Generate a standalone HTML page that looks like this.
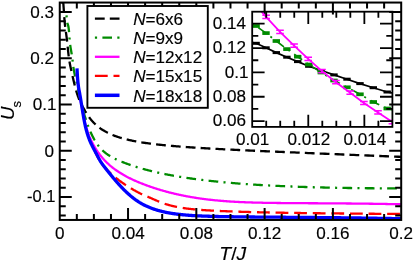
<!DOCTYPE html>
<html><head><meta charset="utf-8"><title>Us vs T/J</title>
<style>
html,body{margin:0;padding:0;background:#fff;}
body{width:415px;height:262px;overflow:hidden;font-family:"Liberation Sans",sans-serif;}
svg{display:block;will-change:transform;}
</style></head><body>
<svg width="415" height="262" viewBox="0 0 415 262">
<rect x="0" y="0" width="415" height="262" fill="#fff"/>
<defs><clipPath id="cm"><rect x="59.75" y="2.55" width="341.45" height="217.40"/></clipPath>
<clipPath id="ci"><rect x="252.20" y="11.70" width="140.20" height="115.20"/></clipPath></defs>
<g clip-path="url(#cm)" fill="none" stroke-linecap="butt" stroke-linejoin="round">
<path d="M62.30,3.49 L62.35,2.59 L62.40,1.82 L62.45,1.16 L62.50,0.62 L62.55,0.19 L62.60,-0.14 L62.66,-0.36 L62.71,-0.48 L62.76,-0.51 L62.82,-0.45 L62.87,-0.31 L62.93,-0.08 L62.98,0.22 L63.04,0.59 L63.09,1.04 L63.15,1.55 L63.21,2.12 L63.27,2.74 L63.32,3.42 L63.38,4.14 L63.44,4.91 L63.50,5.72 L63.56,6.56 L63.62,7.43 L63.69,8.33 L63.75,9.25 L63.81,10.19 L63.88,11.15 L63.94,12.11 L64.00,13.08 L64.07,14.06 L64.14,15.02 L64.20,15.99 L64.27,16.94 L64.34,17.87 L64.41,18.79 L64.48,19.68 L64.55,20.55 L64.62,21.38 L64.69,22.18 L64.76,22.94 L64.83,23.68 L64.90,24.39 L64.98,25.07 L65.05,25.73 L65.13,26.38 L65.20,27.00 L65.28,27.61 L65.36,28.20 L65.44,28.78 L65.52,29.36 L65.59,29.93 L65.68,30.49 L65.76,31.06 L65.84,31.63 L65.92,32.20 L66.00,32.77 L66.09,33.36 L66.17,33.95 L66.26,34.56 L66.34,35.19 L66.43,35.83 L66.52,36.49 L66.61,37.18 L66.70,37.89 L66.79,38.63 L66.88,39.40 L66.97,40.21 L67.07,41.04 L67.16,41.91 L67.26,42.81 L67.35,43.74 L67.45,44.68 L67.55,45.64 L67.64,46.61 L67.74,47.59 L67.84,48.58 L67.94,49.56 L68.05,50.54 L68.15,51.51 L68.25,52.47 L68.36,53.41 L68.47,54.33 L68.57,55.23 L68.68,56.10 L68.79,56.94 L68.90,57.75 L69.01,58.53 L69.12,59.30 L69.24,60.03 L69.35,60.75 L69.47,61.45 L69.58,62.13 L69.70,62.79 L69.82,63.44 L69.94,64.08 L70.06,64.70 L70.18,65.32 L70.30,65.92 L70.43,66.52 L70.55,67.11 L70.68,67.70 L70.81,68.29 L70.94,68.88 L71.07,69.47 L71.20,70.06 L71.33,70.65 L71.47,71.25 L71.60,71.86 L71.74,72.47 L71.88,73.09 L72.01,73.71 L72.15,74.34 L72.30,74.97 L72.44,75.61 L72.58,76.25 L72.73,76.89 L72.88,77.54 L73.02,78.18 L73.17,78.83 L73.32,79.49 L73.48,80.14 L73.63,80.79 L73.79,81.45 L73.94,82.10 L74.10,82.76 L74.26,83.41 L74.42,84.07 L74.58,84.72 L74.75,85.37 L74.91,86.02 L75.08,86.66 L75.25,87.30 L75.42,87.94 L75.59,88.58 L75.77,89.21 L75.94,89.84 L76.12,90.46 L76.30,91.08 L76.48,91.69 L76.66,92.30 L76.84,92.90 L77.03,93.49 L77.22,94.08 L77.41,94.65 L77.60,95.22 L77.79,95.79 L77.98,96.34 L78.18,96.89 L78.38,97.42 L78.58,97.95 L78.78,98.47 L78.98,98.98 L79.19,99.48 L79.39,99.97 L79.60,100.46 L79.81,100.94 L80.03,101.42 L80.24,101.89 L80.46,102.35 L80.68,102.81 L80.90,103.27 L81.12,103.72 L81.35,104.17 L81.57,104.62 L81.80,105.06 L82.04,105.50 L82.27,105.94 L82.51,106.38 L82.74,106.82 L82.98,107.26 L83.23,107.69 L83.47,108.13 L83.72,108.57 L83.97,109.01 L84.22,109.46 L84.48,109.90 L84.73,110.34 L84.99,110.79 L85.25,111.24 L85.52,111.68 L85.78,112.13 L86.05,112.57 L86.32,113.01 L86.60,113.45 L86.87,113.89 L87.15,114.33 L87.43,114.76 L87.72,115.19 L88.01,115.62 L88.29,116.04 L88.59,116.46 L88.88,116.88 L89.18,117.29 L89.48,117.69 L89.78,118.09 L90.09,118.49 L90.40,118.89 L90.71,119.28 L91.03,119.66 L91.34,120.04 L91.66,120.42 L91.99,120.79 L92.32,121.16 L92.64,121.53 L92.98,121.89 L93.31,122.25 L93.65,122.60 L94.00,122.96 L94.34,123.30 L94.69,123.65 L95.04,123.98 L95.40,124.32 L95.76,124.65 L96.12,124.98 L96.48,125.31 L96.85,125.63 L97.22,125.94 L97.60,126.26 L97.98,126.57 L98.36,126.88 L98.75,127.18 L99.14,127.48 L99.53,127.78 L99.93,128.07 L100.33,128.36 L100.73,128.65 L101.14,128.93 L101.56,129.21 L101.97,129.49 L102.39,129.76 L102.82,130.04 L103.24,130.30 L103.68,130.57 L104.11,130.83 L104.55,131.09 L105.00,131.34 L105.44,131.60 L105.90,131.85 L106.35,132.09 L106.81,132.34 L107.28,132.58 L107.75,132.82 L108.22,133.05 L108.70,133.29 L109.18,133.52 L109.67,133.74 L110.16,133.97 L110.66,134.19 L111.16,134.41 L111.67,134.62 L112.18,134.84 L112.69,135.05 L113.21,135.26 L113.74,135.47 L114.27,135.67 L114.80,135.87 L115.34,136.07 L115.89,136.27 L116.44,136.46 L116.99,136.65 L117.55,136.84 L118.12,137.03 L118.69,137.22 L119.27,137.40 L119.85,137.58 L120.44,137.76 L121.03,137.93 L121.63,138.11 L122.23,138.28 L122.84,138.45 L123.45,138.62 L124.07,138.79 L124.70,138.95 L125.33,139.11 L125.97,139.27 L126.62,139.43 L127.27,139.59 L127.92,139.74 L128.59,139.90 L129.25,140.05 L129.93,140.20 L130.61,140.35 L131.30,140.49 L131.99,140.64 L132.69,140.78 L133.40,140.92 L134.11,141.06 L134.83,141.20 L135.56,141.34 L136.29,141.47 L137.03,141.61 L137.78,141.74 L138.54,141.87 L139.30,142.00 L140.07,142.13 L140.84,142.26 L141.63,142.38 L142.42,142.51 L143.21,142.63 L144.02,142.75 L144.83,142.87 L145.65,142.99 L146.48,143.11 L147.32,143.23 L148.16,143.34 L149.01,143.46 L149.87,143.57 L150.74,143.69 L151.61,143.80 L152.50,143.91 L153.39,144.02 L154.29,144.13 L155.20,144.23 L156.12,144.34 L157.04,144.45 L157.98,144.55 L158.92,144.65 L159.87,144.76 L160.83,144.86 L161.80,144.96 L162.78,145.06 L163.77,145.16 L164.77,145.26 L165.77,145.36 L166.79,145.45 L167.81,145.55 L168.85,145.65 L169.89,145.74 L170.95,145.83 L172.01,145.93 L173.09,146.02 L174.17,146.11 L175.27,146.20 L176.37,146.29 L177.48,146.38 L178.61,146.47 L179.75,146.56 L180.89,146.65 L182.05,146.74 L183.22,146.83 L184.40,146.91 L185.59,147.00 L186.79,147.08 L188.00,147.17 L189.22,147.26 L190.46,147.34 L191.71,147.42 L192.96,147.51 L194.23,147.59 L195.52,147.67 L196.81,147.76 L198.11,147.84 L199.43,147.92 L200.76,148.00 L202.11,148.08 L203.46,148.16 L204.83,148.25 L206.21,148.33 L207.60,148.41 L209.01,148.49 L210.43,148.57 L211.86,148.65 L213.31,148.73 L214.77,148.81 L216.24,148.89 L217.73,148.97 L219.23,149.05 L220.75,149.12 L222.28,149.20 L223.82,149.28 L225.38,149.36 L226.95,149.44 L228.54,149.52 L230.14,149.60 L231.76,149.68 L233.39,149.76 L235.04,149.84 L236.70,149.92 L238.38,150.00 L240.07,150.08 L241.78,150.16 L243.51,150.24 L245.25,150.32 L247.01,150.41 L248.79,150.49 L250.58,150.57 L252.39,150.65 L254.21,150.73 L256.05,150.82 L257.91,150.90 L259.79,150.98 L261.68,151.07 L263.59,151.15 L265.52,151.23 L267.47,151.32 L269.44,151.40 L271.42,151.49 L273.42,151.58 L275.45,151.66 L277.49,151.75 L279.55,151.84 L281.62,151.93 L283.72,152.02 L285.84,152.11 L287.98,152.20 L290.13,152.29 L292.31,152.38 L294.51,152.47 L296.73,152.56 L298.97,152.66 L301.23,152.75 L303.51,152.85 L305.81,152.94 L308.14,153.04 L310.48,153.13 L312.85,153.23 L315.24,153.33 L317.65,153.43 L320.09,153.53 L322.54,153.63 L325.02,153.74 L327.53,153.84 L330.05,153.94 L332.60,154.05 L335.18,154.15 L337.78,154.26 L340.40,154.37 L343.05,154.48 L345.72,154.59 L348.41,154.70 L351.14,154.81 L353.88,154.92 L356.66,155.04 L359.46,155.15 L362.28,155.27 L365.13,155.39 L368.01,155.50 L370.92,155.62 L373.85,155.75 L376.81,155.87 L379.79,155.99 L382.81,156.12 L385.85,156.24 L388.92,156.37 L392.02,156.50 L395.15,156.63 L398.31,156.76 L401.50,156.89" stroke="#000" stroke-width="2.3" stroke-dasharray="9.8 5.1" stroke-dashoffset="8.04"/>
<path d="M66.50,15.13 L66.58,16.37 L66.65,17.49 L66.73,18.48 L66.81,19.36 L66.89,20.14 L66.97,20.82 L67.05,21.42 L67.13,21.95 L67.21,22.40 L67.29,22.80 L67.37,23.15 L67.46,23.46 L67.54,23.74 L67.63,23.99 L67.71,24.23 L67.80,24.47 L67.88,24.71 L67.97,24.97 L68.06,25.24 L68.15,25.55 L68.24,25.90 L68.33,26.29 L68.42,26.75 L68.51,27.27 L68.60,27.86 L68.70,28.54 L68.79,29.32 L68.88,30.19 L68.98,31.18 L69.08,32.28 L69.17,33.52 L69.27,34.84 L69.37,36.19 L69.47,37.53 L69.57,38.80 L69.67,39.98 L69.77,41.09 L69.87,42.12 L69.98,43.08 L70.08,43.98 L70.19,44.83 L70.29,45.63 L70.40,46.39 L70.51,47.11 L70.61,47.80 L70.72,48.47 L70.83,49.12 L70.95,49.76 L71.06,50.39 L71.17,51.03 L71.28,51.68 L71.40,52.34 L71.51,53.02 L71.63,53.72 L71.75,54.46 L71.87,55.24 L71.99,56.06 L72.11,56.92 L72.23,57.82 L72.35,58.75 L72.47,59.73 L72.60,60.75 L72.72,61.80 L72.85,62.88 L72.98,63.96 L73.10,65.02 L73.23,66.05 L73.36,67.03 L73.50,67.95 L73.63,68.82 L73.76,69.63 L73.90,70.41 L74.03,71.14 L74.17,71.84 L74.31,72.52 L74.45,73.17 L74.59,73.81 L74.73,74.43 L74.87,75.05 L75.01,75.67 L75.16,76.29 L75.30,76.93 L75.45,77.57 L75.60,78.22 L75.75,78.89 L75.90,79.56 L76.05,80.24 L76.20,80.94 L76.36,81.64 L76.51,82.35 L76.67,83.07 L76.83,83.79 L76.99,84.53 L77.15,85.26 L77.31,86.01 L77.47,86.76 L77.64,87.52 L77.80,88.28 L77.97,89.05 L78.14,89.82 L78.31,90.59 L78.48,91.37 L78.65,92.15 L78.82,92.94 L79.00,93.72 L79.18,94.51 L79.35,95.30 L79.53,96.09 L79.71,96.88 L79.90,97.67 L80.08,98.46 L80.27,99.26 L80.45,100.05 L80.64,100.83 L80.83,101.62 L81.02,102.41 L81.22,103.19 L81.41,103.97 L81.61,104.74 L81.80,105.52 L82.00,106.29 L82.20,107.06 L82.41,107.82 L82.61,108.58 L82.82,109.34 L83.02,110.10 L83.23,110.85 L83.44,111.60 L83.65,112.35 L83.87,113.09 L84.08,113.83 L84.30,114.56 L84.52,115.29 L84.74,116.02 L84.96,116.74 L85.19,117.46 L85.42,118.18 L85.64,118.89 L85.87,119.59 L86.11,120.30 L86.34,120.99 L86.57,121.69 L86.81,122.38 L87.05,123.06 L87.29,123.74 L87.54,124.42 L87.78,125.09 L88.03,125.75 L88.28,126.41 L88.53,127.06 L88.78,127.71 L89.04,128.36 L89.29,129.00 L89.55,129.63 L89.81,130.26 L90.08,130.88 L90.34,131.50 L90.61,132.11 L90.88,132.72 L91.15,133.32 L91.43,133.91 L91.70,134.50 L91.98,135.08 L92.26,135.65 L92.55,136.22 L92.83,136.78 L93.12,137.34 L93.41,137.89 L93.70,138.43 L94.00,138.97 L94.29,139.50 L94.59,140.02 L94.90,140.54 L95.20,141.05 L95.51,141.55 L95.82,142.04 L96.13,142.53 L96.44,143.01 L96.76,143.48 L97.08,143.95 L97.40,144.41 L97.72,144.86 L98.05,145.30 L98.38,145.74 L98.71,146.16 L99.05,146.58 L99.38,147.00 L99.73,147.40 L100.07,147.80 L100.41,148.19 L100.76,148.58 L101.11,148.95 L101.47,149.32 L101.83,149.69 L102.19,150.05 L102.55,150.40 L102.91,150.74 L103.28,151.08 L103.65,151.42 L104.03,151.75 L104.41,152.07 L104.79,152.39 L105.17,152.70 L105.56,153.01 L105.95,153.31 L106.34,153.61 L106.74,153.90 L107.14,154.19 L107.54,154.47 L107.94,154.75 L108.35,155.02 L108.77,155.29 L109.18,155.56 L109.60,155.82 L110.02,156.08 L110.45,156.34 L110.88,156.59 L111.31,156.84 L111.75,157.09 L112.19,157.33 L112.63,157.57 L113.08,157.80 L113.53,158.04 L113.98,158.27 L114.44,158.50 L114.90,158.73 L115.36,158.95 L115.83,159.18 L116.30,159.40 L116.78,159.62 L117.26,159.83 L117.74,160.05 L118.23,160.27 L118.72,160.48 L119.22,160.69 L119.72,160.90 L120.22,161.11 L120.73,161.33 L121.24,161.54 L121.76,161.74 L122.28,161.95 L122.80,162.16 L123.33,162.37 L123.86,162.58 L124.40,162.79 L124.94,162.99 L125.49,163.20 L126.04,163.41 L126.59,163.61 L127.15,163.82 L127.71,164.02 L128.28,164.23 L128.85,164.43 L129.43,164.63 L130.01,164.84 L130.60,165.04 L131.19,165.24 L131.78,165.44 L132.38,165.65 L132.99,165.85 L133.60,166.05 L134.21,166.25 L134.83,166.45 L135.46,166.64 L136.09,166.84 L136.72,167.04 L137.37,167.24 L138.01,167.43 L138.66,167.63 L139.32,167.83 L139.98,168.02 L140.64,168.22 L141.32,168.41 L141.99,168.60 L142.67,168.80 L143.36,168.99 L144.06,169.18 L144.76,169.37 L145.46,169.56 L146.17,169.75 L146.89,169.94 L147.61,170.13 L148.34,170.32 L149.07,170.50 L149.81,170.69 L150.55,170.88 L151.30,171.06 L152.06,171.25 L152.82,171.43 L153.59,171.61 L154.37,171.80 L155.15,171.98 L155.94,172.16 L156.73,172.34 L157.53,172.52 L158.34,172.70 L159.16,172.88 L159.98,173.06 L160.80,173.24 L161.64,173.41 L162.48,173.59 L163.32,173.76 L164.18,173.94 L165.04,174.11 L165.91,174.28 L166.78,174.46 L167.66,174.63 L168.55,174.80 L169.45,174.97 L170.35,175.14 L171.26,175.31 L172.18,175.47 L173.10,175.64 L174.03,175.81 L174.97,175.97 L175.92,176.13 L176.87,176.30 L177.84,176.46 L178.81,176.62 L179.79,176.78 L180.77,176.94 L181.77,177.10 L182.77,177.26 L183.78,177.42 L184.79,177.58 L185.82,177.73 L186.86,177.89 L187.90,178.04 L188.95,178.19 L190.01,178.35 L191.08,178.50 L192.15,178.65 L193.24,178.80 L194.33,178.95 L195.43,179.09 L196.55,179.24 L197.67,179.39 L198.80,179.53 L199.93,179.68 L201.08,179.82 L202.24,179.96 L203.41,180.10 L204.58,180.24 L205.77,180.38 L206.96,180.52 L208.16,180.66 L209.38,180.79 L210.60,180.93 L211.84,181.06 L213.08,181.19 L214.33,181.33 L215.59,181.46 L216.87,181.59 L218.15,181.72 L219.45,181.85 L220.75,181.97 L222.07,182.10 L223.39,182.22 L224.73,182.35 L226.07,182.47 L227.43,182.59 L228.80,182.71 L230.18,182.83 L231.57,182.95 L232.97,183.07 L234.38,183.18 L235.81,183.30 L237.24,183.41 L238.69,183.53 L240.15,183.64 L241.62,183.75 L243.10,183.86 L244.60,183.97 L246.10,184.07 L247.62,184.18 L249.15,184.28 L250.70,184.39 L252.25,184.49 L253.82,184.59 L255.40,184.69 L256.99,184.79 L258.60,184.89 L260.22,184.98 L261.85,185.08 L263.49,185.17 L265.15,185.27 L266.82,185.36 L268.51,185.45 L270.20,185.54 L271.92,185.63 L273.64,185.71 L275.38,185.80 L277.14,185.88 L278.90,185.97 L280.68,186.05 L282.48,186.13 L284.29,186.21 L286.12,186.28 L287.96,186.36 L289.81,186.44 L291.68,186.51 L293.56,186.58 L295.46,186.65 L297.38,186.72 L299.31,186.79 L301.25,186.86 L303.22,186.93 L305.19,186.99 L307.19,187.05 L309.19,187.12 L311.22,187.18 L313.26,187.24 L315.32,187.29 L317.39,187.35 L319.48,187.40 L321.59,187.46 L323.71,187.51 L325.86,187.56 L328.01,187.61 L330.19,187.66 L332.38,187.70 L334.60,187.75 L336.82,187.79 L339.07,187.84 L341.34,187.88 L343.62,187.92 L345.92,187.95 L348.24,187.99 L350.58,188.02 L352.94,188.06 L355.31,188.09 L357.71,188.12 L360.12,188.15 L362.56,188.18 L365.01,188.20 L367.48,188.23 L369.98,188.25 L372.49,188.27 L375.02,188.29 L377.58,188.31 L380.15,188.33 L382.74,188.34 L385.36,188.36 L388.00,188.37 L390.65,188.38 L393.33,188.39 L396.03,188.39 L398.76,188.40 L401.50,188.41" stroke="#008b00" stroke-width="2.3" stroke-dasharray="9.7 5.3 2.05 5.3" stroke-dashoffset="14.73"/>
<path d="M76.60,74.06 L76.73,74.93 L76.85,75.80 L76.98,76.67 L77.11,77.55 L77.24,78.44 L77.37,79.33 L77.50,80.23 L77.63,81.13 L77.76,82.04 L77.89,82.95 L78.03,83.86 L78.16,84.77 L78.30,85.69 L78.43,86.61 L78.57,87.53 L78.71,88.45 L78.85,89.38 L78.99,90.30 L79.13,91.23 L79.27,92.15 L79.41,93.08 L79.56,94.00 L79.70,94.92 L79.85,95.85 L79.99,96.77 L80.14,97.69 L80.29,98.60 L80.44,99.52 L80.59,100.43 L80.74,101.34 L80.89,102.24 L81.04,103.14 L81.20,104.04 L81.35,104.93 L81.51,105.82 L81.66,106.71 L81.82,107.58 L81.98,108.46 L82.14,109.32 L82.30,110.18 L82.46,111.04 L82.63,111.88 L82.79,112.72 L82.96,113.56 L83.12,114.38 L83.29,115.20 L83.46,116.01 L83.63,116.80 L83.80,117.59 L83.97,118.37 L84.14,119.15 L84.32,119.91 L84.49,120.66 L84.67,121.40 L84.85,122.13 L85.02,122.84 L85.20,123.55 L85.38,124.24 L85.57,124.93 L85.75,125.60 L85.93,126.26 L86.12,126.91 L86.30,127.56 L86.49,128.19 L86.68,128.81 L86.87,129.42 L87.06,130.02 L87.26,130.62 L87.45,131.20 L87.64,131.78 L87.84,132.34 L88.04,132.90 L88.24,133.45 L88.44,133.99 L88.64,134.53 L88.84,135.06 L89.04,135.58 L89.25,136.09 L89.46,136.60 L89.66,137.10 L89.87,137.59 L90.08,138.08 L90.30,138.56 L90.51,139.03 L90.72,139.51 L90.94,139.97 L91.16,140.43 L91.38,140.88 L91.60,141.33 L91.82,141.78 L92.04,142.22 L92.26,142.66 L92.49,143.09 L92.72,143.52 L92.95,143.95 L93.18,144.37 L93.41,144.80 L93.64,145.21 L93.88,145.63 L94.11,146.04 L94.35,146.45 L94.59,146.86 L94.83,147.26 L95.07,147.67 L95.32,148.07 L95.56,148.46 L95.81,148.86 L96.06,149.25 L96.31,149.64 L96.56,150.03 L96.81,150.42 L97.07,150.80 L97.32,151.18 L97.58,151.56 L97.84,151.93 L98.10,152.31 L98.37,152.68 L98.63,153.05 L98.90,153.41 L99.17,153.78 L99.44,154.14 L99.71,154.50 L99.98,154.86 L100.26,155.21 L100.54,155.56 L100.81,155.91 L101.09,156.26 L101.38,156.61 L101.66,156.95 L101.95,157.30 L102.24,157.64 L102.52,157.97 L102.82,158.31 L103.11,158.64 L103.41,158.98 L103.70,159.31 L104.00,159.63 L104.30,159.96 L104.61,160.28 L104.91,160.61 L105.22,160.93 L105.53,161.24 L105.84,161.56 L106.15,161.88 L106.46,162.19 L106.78,162.50 L107.10,162.81 L107.42,163.11 L107.74,163.42 L108.07,163.72 L108.40,164.02 L108.73,164.32 L109.06,164.62 L109.39,164.92 L109.73,165.21 L110.06,165.51 L110.40,165.80 L110.75,166.09 L111.09,166.38 L111.44,166.66 L111.78,166.95 L112.14,167.23 L112.49,167.51 L112.84,167.79 L113.20,168.07 L113.56,168.35 L113.92,168.62 L114.29,168.90 L114.66,169.17 L115.02,169.44 L115.40,169.71 L115.77,169.98 L116.15,170.25 L116.53,170.51 L116.91,170.78 L117.29,171.04 L117.68,171.30 L118.07,171.56 L118.46,171.82 L118.85,172.08 L119.25,172.33 L119.64,172.59 L120.05,172.84 L120.45,173.09 L120.86,173.34 L121.26,173.59 L121.68,173.84 L122.09,174.09 L122.51,174.34 L122.93,174.58 L123.35,174.83 L123.77,175.07 L124.20,175.31 L124.63,175.55 L125.07,175.79 L125.50,176.03 L125.94,176.27 L126.38,176.51 L126.83,176.74 L127.27,176.98 L127.72,177.21 L128.18,177.45 L128.63,177.68 L129.09,177.91 L129.55,178.14 L130.02,178.37 L130.49,178.60 L130.96,178.83 L131.43,179.05 L131.91,179.28 L132.39,179.50 L132.87,179.73 L133.35,179.95 L133.84,180.18 L134.34,180.40 L134.83,180.62 L135.33,180.84 L135.83,181.06 L136.34,181.28 L136.84,181.50 L137.36,181.72 L137.87,181.94 L138.39,182.15 L138.91,182.37 L139.43,182.59 L139.96,182.80 L140.49,183.02 L141.03,183.23 L141.57,183.44 L142.11,183.66 L142.65,183.87 L143.20,184.08 L143.75,184.30 L144.31,184.51 L144.87,184.72 L145.43,184.93 L146.00,185.14 L146.57,185.35 L147.14,185.56 L147.72,185.77 L148.30,185.98 L148.88,186.19 L149.47,186.40 L150.07,186.60 L150.66,186.81 L151.26,187.02 L151.87,187.22 L152.47,187.43 L153.08,187.63 L153.70,187.84 L154.32,188.04 L154.94,188.25 L155.57,188.45 L156.20,188.65 L156.84,188.85 L157.48,189.05 L158.12,189.25 L158.77,189.45 L159.42,189.65 L160.07,189.84 L160.74,190.04 L161.40,190.24 L162.07,190.43 L162.74,190.63 L163.42,190.82 L164.10,191.01 L164.79,191.20 L165.48,191.39 L166.17,191.58 L166.87,191.77 L167.57,191.96 L168.28,192.14 L168.99,192.33 L169.71,192.51 L170.43,192.70 L171.16,192.88 L171.89,193.06 L172.63,193.24 L173.37,193.42 L174.11,193.60 L174.86,193.77 L175.62,193.95 L176.38,194.12 L177.14,194.29 L177.91,194.47 L178.69,194.64 L179.47,194.80 L180.25,194.97 L181.04,195.14 L181.83,195.30 L182.63,195.47 L183.44,195.63 L184.25,195.79 L185.06,195.95 L185.88,196.11 L186.71,196.26 L187.54,196.42 L188.38,196.57 L189.22,196.72 L190.06,196.87 L190.92,197.02 L191.77,197.17 L192.64,197.32 L193.51,197.46 L194.38,197.60 L195.26,197.74 L196.15,197.88 L197.04,198.02 L197.93,198.15 L198.84,198.29 L199.74,198.42 L200.66,198.55 L201.58,198.68 L202.50,198.81 L203.44,198.93 L204.37,199.06 L205.32,199.18 L206.27,199.30 L207.22,199.41 L208.19,199.53 L209.16,199.64 L210.13,199.76 L211.11,199.87 L212.10,199.97 L213.09,200.08 L214.09,200.18 L215.10,200.28 L216.11,200.38 L217.13,200.48 L218.15,200.58 L219.19,200.67 L220.22,200.76 L221.27,200.85 L222.32,200.94 L223.38,201.02 L224.45,201.11 L225.52,201.19 L226.60,201.26 L227.68,201.34 L228.78,201.41 L229.88,201.49 L230.99,201.56 L232.10,201.62 L233.22,201.69 L234.35,201.75 L235.49,201.81 L236.63,201.87 L237.78,201.93 L238.94,201.99 L240.10,202.04 L241.28,202.09 L242.46,202.15 L243.64,202.19 L244.84,202.24 L246.04,202.29 L247.25,202.33 L248.47,202.37 L249.70,202.42 L250.93,202.45 L252.17,202.49 L253.42,202.53 L254.68,202.56 L255.95,202.60 L257.22,202.63 L258.50,202.66 L259.79,202.69 L261.09,202.72 L262.40,202.75 L263.72,202.78 L265.04,202.80 L266.37,202.83 L267.71,202.85 L269.06,202.87 L270.42,202.89 L271.79,202.91 L273.16,202.93 L274.55,202.95 L275.94,202.97 L277.34,202.99 L278.76,203.00 L280.18,203.02 L281.61,203.03 L283.04,203.05 L284.49,203.06 L285.95,203.08 L287.41,203.09 L288.89,203.10 L290.38,203.11 L291.87,203.12 L293.37,203.13 L294.89,203.15 L296.41,203.16 L297.95,203.17 L299.49,203.17 L301.04,203.18 L302.61,203.19 L304.18,203.20 L305.76,203.21 L307.35,203.22 L308.96,203.23 L310.57,203.24 L312.20,203.25 L313.83,203.25 L315.48,203.26 L317.13,203.27 L318.80,203.28 L320.47,203.29 L322.16,203.30 L323.86,203.31 L325.57,203.32 L327.29,203.33 L329.02,203.34 L330.76,203.35 L332.52,203.36 L334.28,203.38 L336.06,203.39 L337.84,203.40 L339.64,203.42 L341.45,203.43 L343.27,203.45 L345.11,203.46 L346.95,203.48 L348.81,203.49 L350.68,203.51 L352.56,203.53 L354.45,203.55 L356.36,203.57 L358.27,203.59 L360.20,203.62 L362.15,203.64 L364.10,203.66 L366.07,203.69 L368.05,203.72 L370.04,203.74 L372.04,203.77 L374.06,203.80 L376.09,203.83 L378.14,203.87 L380.19,203.90 L382.26,203.94 L384.35,203.97 L386.44,204.01 L388.55,204.05 L390.68,204.09 L392.81,204.13 L394.96,204.18 L397.13,204.22 L399.31,204.27 L401.50,204.32" stroke="#ff00ff" stroke-width="2.3"/>
<path d="M95.00,151.49 L95.19,151.92 L95.37,152.35 L95.56,152.77 L95.75,153.19 L95.94,153.60 L96.14,154.01 L96.33,154.41 L96.52,154.81 L96.72,155.21 L96.91,155.60 L97.11,155.98 L97.31,156.36 L97.50,156.74 L97.70,157.12 L97.90,157.49 L98.11,157.85 L98.31,158.21 L98.51,158.57 L98.72,158.93 L98.92,159.28 L99.13,159.62 L99.33,159.97 L99.54,160.31 L99.75,160.64 L99.96,160.98 L100.17,161.31 L100.39,161.63 L100.60,161.96 L100.81,162.28 L101.03,162.59 L101.25,162.91 L101.46,163.22 L101.68,163.53 L101.90,163.83 L102.12,164.13 L102.35,164.43 L102.57,164.73 L102.79,165.02 L103.02,165.31 L103.25,165.60 L103.47,165.89 L103.70,166.17 L103.93,166.45 L104.16,166.73 L104.40,167.01 L104.63,167.28 L104.86,167.56 L105.10,167.83 L105.34,168.10 L105.57,168.36 L105.81,168.63 L106.05,168.89 L106.29,169.15 L106.54,169.41 L106.78,169.67 L107.03,169.92 L107.27,170.18 L107.52,170.43 L107.77,170.68 L108.02,170.93 L108.27,171.18 L108.52,171.43 L108.77,171.68 L109.03,171.92 L109.29,172.17 L109.54,172.41 L109.80,172.65 L110.06,172.89 L110.32,173.13 L110.59,173.37 L110.85,173.61 L111.11,173.85 L111.38,174.09 L111.65,174.33 L111.92,174.56 L112.19,174.80 L112.46,175.04 L112.73,175.27 L113.01,175.51 L113.28,175.74 L113.56,175.98 L113.84,176.21 L114.12,176.45 L114.40,176.68 L114.68,176.91 L114.96,177.14 L115.25,177.38 L115.54,177.61 L115.82,177.84 L116.11,178.07 L116.41,178.30 L116.70,178.53 L116.99,178.76 L117.29,178.99 L117.58,179.22 L117.88,179.45 L118.18,179.68 L118.48,179.91 L118.78,180.14 L119.09,180.36 L119.39,180.59 L119.70,180.82 L120.01,181.05 L120.32,181.27 L120.63,181.50 L120.95,181.73 L121.26,181.95 L121.58,182.18 L121.89,182.40 L122.21,182.63 L122.53,182.85 L122.86,183.08 L123.18,183.30 L123.51,183.53 L123.83,183.75 L124.16,183.97 L124.49,184.20 L124.83,184.42 L125.16,184.64 L125.50,184.87 L125.83,185.09 L126.17,185.31 L126.51,185.53 L126.85,185.76 L127.20,185.98 L127.54,186.20 L127.89,186.42 L128.24,186.64 L128.59,186.86 L128.94,187.08 L129.30,187.30 L129.65,187.52 L130.01,187.74 L130.37,187.96 L130.73,188.18 L131.09,188.40 L131.46,188.62 L131.82,188.84 L132.19,189.06 L132.56,189.28 L132.93,189.50 L133.31,189.72 L133.68,189.94 L134.06,190.15 L134.44,190.37 L134.82,190.59 L135.20,190.80 L135.59,191.02 L135.98,191.23 L136.37,191.44 L136.76,191.65 L137.15,191.87 L137.54,192.08 L137.94,192.28 L138.34,192.49 L138.74,192.70 L139.14,192.90 L139.54,193.11 L139.95,193.31 L140.36,193.51 L140.77,193.71 L141.18,193.91 L141.60,194.11 L142.01,194.30 L142.43,194.50 L142.85,194.69 L143.27,194.88 L143.70,195.07 L144.13,195.26 L144.55,195.44 L144.98,195.63 L145.42,195.81 L145.85,195.99 L146.29,196.18 L146.73,196.36 L147.17,196.55 L147.62,196.73 L148.06,196.92 L148.51,197.11 L148.96,197.29 L149.41,197.49 L149.87,197.68 L150.32,197.87 L150.78,198.07 L151.25,198.27 L151.71,198.47 L152.18,198.67 L152.64,198.88 L153.11,199.08 L153.59,199.29 L154.06,199.49 L154.54,199.70 L155.02,199.91 L155.50,200.12 L155.99,200.33 L156.48,200.53 L156.97,200.74 L157.46,200.95 L157.95,201.16 L158.45,201.36 L158.95,201.57 L159.45,201.77 L159.95,201.97 L160.46,202.17 L160.97,202.37 L161.48,202.57 L162.00,202.77 L162.51,202.96 L163.03,203.15 L163.55,203.34 L164.08,203.52 L164.61,203.70 L165.13,203.88 L165.67,204.05 L166.20,204.23 L166.74,204.39 L167.28,204.56 L167.82,204.72 L168.37,204.88 L168.92,205.04 L169.47,205.19 L170.02,205.34 L170.58,205.49 L171.14,205.63 L171.70,205.77 L172.26,205.91 L172.83,206.05 L173.40,206.18 L173.97,206.31 L174.55,206.44 L175.13,206.57 L175.71,206.69 L176.29,206.81 L176.88,206.93 L177.47,207.05 L178.06,207.16 L178.66,207.27 L179.26,207.38 L179.86,207.49 L180.46,207.59 L181.07,207.69 L181.68,207.79 L182.30,207.89 L182.91,207.98 L183.53,208.08 L184.15,208.17 L184.78,208.26 L185.41,208.35 L186.04,208.43 L186.68,208.52 L187.31,208.60 L187.96,208.68 L188.60,208.75 L189.25,208.83 L189.90,208.91 L190.55,208.98 L191.21,209.05 L191.87,209.12 L192.53,209.19 L193.20,209.26 L193.87,209.32 L194.55,209.38 L195.22,209.45 L195.90,209.51 L196.59,209.57 L197.27,209.63 L197.96,209.68 L198.66,209.74 L199.36,209.79 L200.06,209.85 L200.76,209.90 L201.47,209.95 L202.18,210.00 L202.89,210.05 L203.61,210.10 L204.33,210.15 L205.06,210.19 L205.79,210.24 L206.52,210.28 L207.26,210.33 L207.99,210.37 L208.74,210.41 L209.48,210.46 L210.24,210.50 L210.99,210.54 L211.75,210.58 L212.51,210.62 L213.27,210.66 L214.04,210.70 L214.82,210.73 L215.59,210.77 L216.37,210.81 L217.16,210.85 L217.95,210.88 L218.74,210.92 L219.53,210.96 L220.33,210.99 L221.14,211.03 L221.95,211.06 L222.76,211.10 L223.57,211.13 L224.39,211.17 L225.22,211.20 L226.05,211.24 L226.88,211.27 L227.71,211.30 L228.55,211.33 L229.40,211.37 L230.25,211.40 L231.10,211.43 L231.96,211.46 L232.82,211.49 L233.68,211.53 L234.55,211.56 L235.43,211.59 L236.31,211.62 L237.19,211.65 L238.07,211.68 L238.97,211.71 L239.86,211.73 L240.76,211.76 L241.67,211.79 L242.57,211.82 L243.49,211.85 L244.41,211.88 L245.33,211.90 L246.26,211.93 L247.19,211.96 L248.12,211.98 L249.06,212.01 L250.01,212.04 L250.96,212.06 L251.91,212.09 L252.87,212.11 L253.84,212.14 L254.81,212.16 L255.78,212.19 L256.76,212.21 L257.74,212.24 L258.73,212.26 L259.72,212.29 L260.72,212.31 L261.72,212.33 L262.73,212.35 L263.74,212.38 L264.76,212.40 L265.78,212.42 L266.81,212.45 L267.84,212.47 L268.88,212.49 L269.92,212.51 L270.97,212.53 L272.02,212.55 L273.08,212.57 L274.15,212.59 L275.22,212.62 L276.29,212.64 L277.37,212.66 L278.45,212.68 L279.54,212.70 L280.64,212.72 L281.74,212.73 L282.85,212.75 L283.96,212.77 L285.07,212.79 L286.20,212.81 L287.32,212.83 L288.46,212.85 L289.60,212.87 L290.74,212.88 L291.89,212.90 L293.05,212.92 L294.21,212.94 L295.38,212.95 L296.55,212.97 L297.73,212.99 L298.92,213.01 L300.11,213.02 L301.30,213.04 L302.50,213.06 L303.71,213.07 L304.93,213.09 L306.15,213.10 L307.37,213.12 L308.61,213.14 L309.84,213.15 L311.09,213.17 L312.34,213.18 L313.60,213.20 L314.86,213.21 L316.13,213.23 L317.40,213.24 L318.69,213.26 L319.97,213.27 L321.27,213.29 L322.57,213.30 L323.88,213.31 L325.19,213.33 L326.51,213.34 L327.84,213.36 L329.17,213.37 L330.51,213.38 L331.85,213.40 L333.21,213.41 L334.57,213.43 L335.93,213.44 L337.31,213.45 L338.69,213.47 L340.07,213.48 L341.47,213.49 L342.87,213.50 L344.27,213.52 L345.69,213.53 L347.11,213.54 L348.54,213.56 L349.97,213.57 L351.41,213.58 L352.86,213.59 L354.32,213.61 L355.78,213.62 L357.25,213.63 L358.73,213.64 L360.21,213.66 L361.71,213.67 L363.21,213.68 L364.71,213.69 L366.23,213.70 L367.75,213.72 L369.28,213.73 L370.82,213.74 L372.36,213.75 L373.91,213.76 L375.47,213.78 L377.04,213.79 L378.62,213.80 L380.20,213.81 L381.79,213.82 L383.39,213.83 L384.99,213.85 L386.61,213.86 L388.23,213.87 L389.86,213.88 L391.50,213.89 L393.15,213.90 L394.80,213.92 L396.46,213.93 L398.13,213.94 L399.81,213.95 L401.50,213.96" stroke="#ff0000" stroke-width="2.3" stroke-dasharray="12.8 5.8" stroke-dashoffset="3.50"/>
<path d="M77.00,68.35 L77.13,70.84 L77.26,73.12 L77.38,75.22 L77.51,77.13 L77.64,78.88 L77.78,80.48 L77.91,81.93 L78.04,83.25 L78.17,84.46 L78.31,85.56 L78.44,86.57 L78.58,87.51 L78.72,88.37 L78.86,89.19 L79.00,89.96 L79.14,90.71 L79.28,91.44 L79.42,92.17 L79.56,92.91 L79.70,93.67 L79.85,94.46 L79.99,95.27 L80.14,96.11 L80.29,96.96 L80.43,97.84 L80.58,98.73 L80.73,99.64 L80.88,100.56 L81.04,101.50 L81.19,102.45 L81.34,103.41 L81.50,104.38 L81.65,105.36 L81.81,106.35 L81.97,107.34 L82.13,108.33 L82.29,109.33 L82.45,110.33 L82.61,111.33 L82.77,112.32 L82.94,113.31 L83.10,114.30 L83.27,115.28 L83.43,116.25 L83.60,117.21 L83.77,118.17 L83.94,119.10 L84.11,120.03 L84.29,120.94 L84.46,121.84 L84.63,122.71 L84.81,123.57 L84.99,124.41 L85.16,125.23 L85.34,126.03 L85.52,126.81 L85.71,127.58 L85.89,128.33 L86.07,129.07 L86.26,129.79 L86.44,130.49 L86.63,131.18 L86.82,131.86 L87.01,132.52 L87.20,133.17 L87.39,133.80 L87.58,134.42 L87.78,135.03 L87.97,135.63 L88.17,136.22 L88.37,136.79 L88.57,137.36 L88.77,137.91 L88.97,138.46 L89.17,138.99 L89.38,139.52 L89.59,140.04 L89.79,140.55 L90.00,141.06 L90.21,141.55 L90.42,142.04 L90.63,142.52 L90.85,143.00 L91.06,143.47 L91.28,143.94 L91.50,144.40 L91.72,144.86 L91.94,145.32 L92.16,145.77 L92.38,146.22 L92.61,146.67 L92.84,147.11 L93.06,147.56 L93.29,148.00 L93.52,148.44 L93.76,148.88 L93.99,149.32 L94.23,149.76 L94.46,150.21 L94.70,150.65 L94.94,151.10 L95.18,151.55 L95.42,152.00 L95.67,152.46 L95.91,152.92 L96.16,153.38 L96.41,153.85 L96.66,154.32 L96.91,154.80 L97.17,155.28 L97.42,155.77 L97.68,156.27 L97.94,156.77 L98.20,157.28 L98.46,157.78 L98.72,158.29 L98.99,158.79 L99.26,159.28 L99.53,159.76 L99.80,160.23 L100.07,160.68 L100.34,161.13 L100.62,161.57 L100.90,162.01 L101.17,162.43 L101.46,162.85 L101.74,163.26 L102.02,163.67 L102.31,164.07 L102.60,164.47 L102.89,164.86 L103.18,165.25 L103.47,165.64 L103.77,166.03 L104.07,166.42 L104.36,166.80 L104.67,167.19 L104.97,167.58 L105.27,167.97 L105.58,168.36 L105.89,168.76 L106.20,169.15 L106.51,169.55 L106.83,169.95 L107.15,170.35 L107.46,170.76 L107.79,171.16 L108.11,171.57 L108.43,171.98 L108.76,172.39 L109.09,172.80 L109.42,173.21 L109.75,173.62 L110.09,174.04 L110.43,174.46 L110.77,174.87 L111.11,175.29 L111.45,175.71 L111.80,176.14 L112.15,176.56 L112.50,176.98 L112.85,177.41 L113.21,177.83 L113.56,178.26 L113.92,178.68 L114.29,179.11 L114.65,179.54 L115.02,179.97 L115.39,180.40 L115.76,180.83 L116.13,181.26 L116.51,181.70 L116.89,182.13 L117.27,182.56 L117.65,182.99 L118.04,183.43 L118.42,183.86 L118.81,184.29 L119.21,184.73 L119.60,185.16 L120.00,185.60 L120.40,186.03 L120.80,186.46 L121.21,186.89 L121.62,187.33 L122.03,187.76 L122.44,188.19 L122.86,188.62 L123.28,189.05 L123.70,189.47 L124.12,189.90 L124.55,190.32 L124.98,190.75 L125.41,191.17 L125.85,191.59 L126.29,192.01 L126.73,192.42 L127.17,192.84 L127.62,193.25 L128.07,193.66 L128.52,194.07 L128.97,194.47 L129.43,194.87 L129.89,195.27 L130.35,195.67 L130.82,196.06 L131.29,196.46 L131.76,196.84 L132.24,197.23 L132.72,197.61 L133.20,197.99 L133.68,198.37 L134.17,198.74 L134.66,199.10 L135.15,199.47 L135.65,199.83 L136.15,200.18 L136.66,200.54 L137.16,200.88 L137.67,201.23 L138.18,201.57 L138.70,201.90 L139.22,202.23 L139.74,202.56 L140.27,202.88 L140.80,203.19 L141.33,203.50 L141.87,203.81 L142.41,204.11 L142.95,204.40 L143.50,204.69 L144.05,204.98 L144.60,205.26 L145.16,205.53 L145.72,205.81 L146.28,206.07 L146.85,206.33 L147.42,206.59 L148.00,206.84 L148.58,207.09 L149.16,207.34 L149.74,207.58 L150.33,207.81 L150.93,208.04 L151.53,208.27 L152.13,208.49 L152.73,208.71 L153.34,208.92 L153.95,209.13 L154.57,209.34 L155.19,209.54 L155.81,209.74 L156.44,209.93 L157.08,210.12 L157.71,210.31 L158.35,210.49 L159.00,210.67 L159.65,210.85 L160.30,211.02 L160.96,211.18 L161.62,211.35 L162.28,211.51 L162.95,211.67 L163.62,211.82 L164.30,211.97 L164.99,212.12 L165.67,212.26 L166.36,212.40 L167.06,212.54 L167.76,212.67 L168.46,212.80 L169.17,212.93 L169.89,213.06 L170.60,213.18 L171.33,213.30 L172.05,213.41 L172.78,213.53 L173.52,213.64 L174.26,213.74 L175.01,213.85 L175.76,213.95 L176.51,214.05 L177.27,214.14 L178.04,214.24 L178.81,214.33 L179.58,214.42 L180.36,214.51 L181.15,214.59 L181.94,214.67 L182.73,214.75 L183.53,214.83 L184.33,214.90 L185.14,214.98 L185.96,215.05 L186.78,215.11 L187.60,215.18 L188.44,215.25 L189.27,215.31 L190.11,215.37 L190.96,215.43 L191.81,215.48 L192.67,215.54 L193.53,215.59 L194.40,215.64 L195.27,215.69 L196.15,215.74 L197.04,215.79 L197.93,215.83 L198.82,215.88 L199.73,215.92 L200.63,215.96 L201.55,216.00 L202.47,216.04 L203.39,216.07 L204.32,216.11 L205.26,216.14 L206.20,216.18 L207.15,216.21 L208.11,216.24 L209.07,216.27 L210.03,216.30 L211.01,216.33 L211.99,216.36 L212.97,216.38 L213.96,216.41 L214.96,216.43 L215.97,216.46 L216.98,216.48 L218.00,216.50 L219.02,216.53 L220.05,216.55 L221.09,216.57 L222.13,216.59 L223.18,216.61 L224.24,216.63 L225.30,216.65 L226.37,216.67 L227.45,216.69 L228.53,216.70 L229.62,216.72 L230.72,216.74 L231.82,216.76 L232.94,216.77 L234.06,216.79 L235.18,216.80 L236.31,216.82 L237.46,216.84 L238.60,216.85 L239.76,216.86 L240.92,216.88 L242.09,216.89 L243.27,216.91 L244.45,216.92 L245.64,216.93 L246.84,216.95 L248.05,216.96 L249.27,216.97 L250.49,216.98 L251.72,217.00 L252.96,217.01 L254.20,217.02 L255.46,217.03 L256.72,217.04 L257.99,217.05 L259.27,217.06 L260.55,217.08 L261.85,217.09 L263.15,217.10 L264.46,217.11 L265.78,217.12 L267.11,217.13 L268.45,217.14 L269.79,217.15 L271.14,217.16 L272.50,217.17 L273.88,217.18 L275.25,217.19 L276.64,217.20 L278.04,217.21 L279.45,217.22 L280.86,217.23 L282.28,217.24 L283.72,217.26 L285.16,217.27 L286.61,217.28 L288.07,217.29 L289.54,217.30 L291.02,217.31 L292.51,217.32 L294.00,217.33 L295.51,217.35 L297.03,217.36 L298.55,217.37 L300.09,217.38 L301.64,217.39 L303.19,217.41 L304.76,217.42 L306.33,217.43 L307.92,217.45 L309.51,217.46 L311.12,217.47 L312.74,217.49 L314.36,217.50 L316.00,217.52 L317.65,217.53 L319.30,217.55 L320.97,217.56 L322.65,217.58 L324.34,217.60 L326.04,217.61 L327.75,217.63 L329.47,217.65 L331.21,217.67 L332.95,217.68 L334.70,217.70 L336.47,217.72 L338.25,217.74 L340.04,217.76 L341.84,217.78 L343.65,217.81 L345.47,217.83 L347.30,217.85 L349.15,217.87 L351.01,217.90 L352.88,217.92 L354.76,217.94 L356.65,217.97 L358.56,217.99 L360.48,218.02 L362.41,218.05 L364.35,218.07 L366.30,218.10 L368.27,218.13 L370.25,218.16 L372.24,218.19 L374.25,218.22 L376.27,218.25 L378.30,218.28 L380.34,218.32 L382.40,218.35 L384.46,218.38 L386.55,218.42 L388.64,218.45 L390.75,218.49 L392.87,218.53 L395.01,218.56 L397.16,218.60 L399.32,218.64 L401.50,218.68" stroke="#0000ff" stroke-width="3.3"/>
</g>
<rect x="252.20" y="11.70" width="140.20" height="115.20" fill="#fff"/>
<g stroke="#000" stroke-width="2" fill="none">
<path d="M76.82,219.95 v-6.00 M76.82,2.55 v6.00"/>
<path d="M93.89,219.95 v-6.00 M93.89,2.55 v6.00"/>
<path d="M110.97,219.95 v-6.00 M110.97,2.55 v6.00"/>
<path d="M128.04,219.95 v-12.00 M128.04,2.55 v12.00"/>
<path d="M145.11,219.95 v-6.00 M145.11,2.55 v6.00"/>
<path d="M162.19,219.95 v-6.00 M162.19,2.55 v6.00"/>
<path d="M179.26,219.95 v-6.00 M179.26,2.55 v6.00"/>
<path d="M196.33,219.95 v-12.00 M196.33,2.55 v12.00"/>
<path d="M213.40,219.95 v-6.00 M213.40,2.55 v6.00"/>
<path d="M230.47,219.95 v-6.00 M230.47,2.55 v6.00"/>
<path d="M247.55,219.95 v-6.00 M247.55,2.55 v6.00"/>
<path d="M264.62,219.95 v-12.00 M264.62,2.55 v12.00"/>
<path d="M281.69,219.95 v-6.00 M281.69,2.55 v6.00"/>
<path d="M298.76,219.95 v-6.00 M298.76,2.55 v6.00"/>
<path d="M315.84,219.95 v-6.00 M315.84,2.55 v6.00"/>
<path d="M332.91,219.95 v-12.00 M332.91,2.55 v12.00"/>
<path d="M349.98,219.95 v-6.00 M349.98,2.55 v6.00"/>
<path d="M367.05,219.95 v-6.00 M367.05,2.55 v6.00"/>
<path d="M384.13,219.95 v-6.00 M384.13,2.55 v6.00"/>
<path d="M59.75,215.55 h6.00 M401.20,215.55 h-6.00"/>
<path d="M59.75,206.30 h6.00 M401.20,206.30 h-6.00"/>
<path d="M59.75,197.05 h12.00 M401.20,197.05 h-12.00"/>
<path d="M59.75,187.80 h6.00 M401.20,187.80 h-6.00"/>
<path d="M59.75,178.55 h6.00 M401.20,178.55 h-6.00"/>
<path d="M59.75,169.30 h6.00 M401.20,169.30 h-6.00"/>
<path d="M59.75,160.05 h6.00 M401.20,160.05 h-6.00"/>
<path d="M59.75,150.80 h12.00 M401.20,150.80 h-12.00"/>
<path d="M59.75,141.55 h6.00 M401.20,141.55 h-6.00"/>
<path d="M59.75,132.30 h6.00 M401.20,132.30 h-6.00"/>
<path d="M59.75,123.05 h6.00 M401.20,123.05 h-6.00"/>
<path d="M59.75,113.80 h6.00 M401.20,113.80 h-6.00"/>
<path d="M59.75,104.55 h12.00 M401.20,104.55 h-12.00"/>
<path d="M59.75,95.30 h6.00 M401.20,95.30 h-6.00"/>
<path d="M59.75,86.05 h6.00 M401.20,86.05 h-6.00"/>
<path d="M59.75,76.80 h6.00 M401.20,76.80 h-6.00"/>
<path d="M59.75,67.55 h6.00 M401.20,67.55 h-6.00"/>
<path d="M59.75,58.30 h12.00 M401.20,58.30 h-12.00"/>
<path d="M59.75,49.05 h6.00 M401.20,49.05 h-6.00"/>
<path d="M59.75,39.80 h6.00 M401.20,39.80 h-6.00"/>
<path d="M59.75,30.55 h6.00 M401.20,30.55 h-6.00"/>
<path d="M59.75,21.30 h6.00 M401.20,21.30 h-6.00"/>
<path d="M59.75,12.05 h12.00 M401.20,12.05 h-12.00"/>
<rect x="59.75" y="2.55" width="341.45" height="217.40"/>
</g>
<rect x="87.40" y="6.00" width="120.40" height="101.80" fill="#fff" stroke="#000" stroke-width="1.9"/>
<g fill="none">
<path d="M94.9,18.60 H119.5" stroke="#000" stroke-width="2.3" stroke-dasharray="9.8 5.1"/>
<path d="M94.9,37.70 H119.5" stroke="#008b00" stroke-width="2.3" stroke-dasharray="2.2 5.3 9.6 5.3"/>
<path d="M94.9,56.80 H119.5" stroke="#ff00ff" stroke-width="2.3"/>
<path d="M94.9,75.90 H119.5" stroke="#ff0000" stroke-width="2.3" stroke-dasharray="12.8 5.8"/>
<path d="M94.9,95.30 H119.5" stroke="#0000ff" stroke-width="3.5"/>
</g>
<g font-family="'Liberation Sans', sans-serif" fill="#000" stroke="#000" stroke-width="0.15">
<text transform="translate(133.20,25.00) scale(1.050,1)" font-size="16.30" text-anchor="start" ><tspan font-style="italic">N</tspan>=6x6</text>
<text transform="translate(133.20,44.10) scale(1.050,1)" font-size="16.30" text-anchor="start" ><tspan font-style="italic">N</tspan>=9x9</text>
<text transform="translate(133.20,63.20) scale(1.050,1)" font-size="16.30" text-anchor="start" ><tspan font-style="italic">N</tspan>=12x12</text>
<text transform="translate(133.20,82.30) scale(1.050,1)" font-size="16.30" text-anchor="start" ><tspan font-style="italic">N</tspan>=15x15</text>
<text transform="translate(133.20,101.70) scale(1.050,1)" font-size="16.30" text-anchor="start" ><tspan font-style="italic">N</tspan>=18x18</text>
<text transform="translate(54.00,17.95) scale(1.070,1)" font-size="16.00" text-anchor="end" >0.3</text>
<text transform="translate(54.00,64.20) scale(1.070,1)" font-size="16.00" text-anchor="end" >0.2</text>
<text transform="translate(56.60,110.45) scale(1.070,1)" font-size="16.00" text-anchor="end" >0.1</text>
<text transform="translate(54.00,156.70) scale(1.070,1)" font-size="16.00" text-anchor="end" >0</text>
<text transform="translate(55.40,202.05) scale(1.030,1)" font-size="16.00" text-anchor="end" >-0.1</text>
<text transform="translate(59.75,239.40) scale(1.070,1)" font-size="16.00" text-anchor="middle" >0</text>
<text transform="translate(128.04,239.40) scale(1.070,1)" font-size="16.00" text-anchor="middle" >0.04</text>
<text transform="translate(196.33,239.40) scale(1.070,1)" font-size="16.00" text-anchor="middle" >0.08</text>
<text transform="translate(264.62,239.40) scale(1.070,1)" font-size="16.00" text-anchor="middle" >0.12</text>
<text transform="translate(332.91,239.40) scale(1.070,1)" font-size="16.00" text-anchor="middle" >0.16</text>
<text transform="translate(401.20,239.40) scale(1.070,1)" font-size="16.00" text-anchor="middle" >0.2</text>
<text transform="translate(219.30,260.00) scale(1.100,1)" font-size="17.60" text-anchor="start" ><tspan font-style="italic">T</tspan>/<tspan font-style="italic">J</tspan></text>
<g transform="translate(14.3,120.1) rotate(-90)"><text font-size="18.6" font-style="italic" x="0" y="0">U</text><text font-size="13" x="12.5" y="6.7">s</text></g>
</g>
<g clip-path="url(#ci)" fill="none">
<path d="M248.20,41.60 L256.10,43.30 L266.00,47.80 L276.30,52.60 L286.90,57.20 L297.70,61.60 L308.80,66.30 L321.30,70.50 L334.00,74.90 L347.00,79.20 L360.00,83.60 L373.30,87.70 L387.20,92.00 L398.40,94.00" stroke="#000" stroke-width="1.7"/>
<rect x="252.40" y="41.80" width="7.4" height="3.0" fill="#000"/>
<rect x="262.30" y="46.30" width="7.4" height="3.0" fill="#000"/>
<rect x="272.60" y="51.10" width="7.4" height="3.0" fill="#000"/>
<rect x="283.20" y="55.70" width="7.4" height="3.0" fill="#000"/>
<rect x="294.00" y="60.10" width="7.4" height="3.0" fill="#000"/>
<rect x="305.10" y="64.80" width="7.4" height="3.0" fill="#000"/>
<rect x="317.60" y="69.00" width="7.4" height="3.0" fill="#000"/>
<rect x="330.30" y="73.40" width="7.4" height="3.0" fill="#000"/>
<rect x="343.30" y="77.70" width="7.4" height="3.0" fill="#000"/>
<rect x="356.30" y="82.10" width="7.4" height="3.0" fill="#000"/>
<rect x="369.60" y="86.20" width="7.4" height="3.0" fill="#000"/>
<rect x="383.50" y="90.50" width="7.4" height="3.0" fill="#000"/>
<path d="M248.20,22.00 L256.10,26.00 L266.00,33.10 L276.30,41.00 L286.90,49.10 L297.70,56.70 L308.80,64.50 L321.30,72.50 L334.00,80.50 L347.00,87.30 L360.00,94.30 L373.30,102.00 L387.20,108.50 L398.40,111.50" stroke="#008b00" stroke-width="1.7" stroke-dasharray="9.7 5.3 2.05 5.3" stroke-dashoffset="10.8"/>
<rect x="252.40" y="24.15" width="7.4" height="3.7" fill="#008b00"/>
<rect x="262.30" y="31.25" width="7.4" height="3.7" fill="#008b00"/>
<rect x="272.60" y="39.15" width="7.4" height="3.7" fill="#008b00"/>
<rect x="283.20" y="47.25" width="7.4" height="3.7" fill="#008b00"/>
<rect x="294.00" y="54.85" width="7.4" height="3.7" fill="#008b00"/>
<rect x="305.10" y="62.65" width="7.4" height="3.7" fill="#008b00"/>
<rect x="317.60" y="70.65" width="7.4" height="3.7" fill="#008b00"/>
<rect x="330.30" y="78.65" width="7.4" height="3.7" fill="#008b00"/>
<rect x="343.30" y="85.45" width="7.4" height="3.7" fill="#008b00"/>
<rect x="356.30" y="92.45" width="7.4" height="3.7" fill="#008b00"/>
<rect x="369.60" y="100.15" width="7.4" height="3.7" fill="#008b00"/>
<rect x="383.50" y="106.65" width="7.4" height="3.7" fill="#008b00"/>
<path d="M252.20,0.90 L266.10,16.90 L280.00,31.80 L294.10,45.60 L308.20,58.90 L322.00,71.10 L335.90,82.20 L350.20,92.70 L363.90,103.00 L378.00,112.40 L392.40,122.10" stroke="#ff00ff" stroke-width="1.8"/>
<path d="M248.40,-0.70 h7.6 M248.40,2.50 h7.6 M252.20,-0.70 v3.2" stroke="#ff00ff" stroke-width="1.5"/>
<path d="M262.30,15.30 h7.6 M262.30,18.50 h7.6 M266.10,15.30 v3.2" stroke="#ff00ff" stroke-width="1.5"/>
<path d="M276.20,30.20 h7.6 M276.20,33.40 h7.6 M280.00,30.20 v3.2" stroke="#ff00ff" stroke-width="1.5"/>
<path d="M290.30,44.00 h7.6 M290.30,47.20 h7.6 M294.10,44.00 v3.2" stroke="#ff00ff" stroke-width="1.5"/>
<path d="M304.40,57.30 h7.6 M304.40,60.50 h7.6 M308.20,57.30 v3.2" stroke="#ff00ff" stroke-width="1.5"/>
<path d="M318.20,69.50 h7.6 M318.20,72.70 h7.6 M322.00,69.50 v3.2" stroke="#ff00ff" stroke-width="1.5"/>
<path d="M332.10,80.60 h7.6 M332.10,83.80 h7.6 M335.90,80.60 v3.2" stroke="#ff00ff" stroke-width="1.5"/>
<path d="M346.40,91.10 h7.6 M346.40,94.30 h7.6 M350.20,91.10 v3.2" stroke="#ff00ff" stroke-width="1.5"/>
<path d="M360.10,101.40 h7.6 M360.10,104.60 h7.6 M363.90,101.40 v3.2" stroke="#ff00ff" stroke-width="1.5"/>
<path d="M374.20,110.80 h7.6 M374.20,114.00 h7.6 M378.00,110.80 v3.2" stroke="#ff00ff" stroke-width="1.5"/>
<path d="M388.60,120.50 h7.6 M388.60,123.70 h7.6 M392.40,120.50 v3.2" stroke="#ff00ff" stroke-width="1.5"/>
</g>
<g stroke="#000" stroke-width="1.8" fill="none">
<path d="M266.22,126.90 v-6.10 M266.22,11.70 v6.10"/>
<path d="M280.24,126.90 v-6.10 M280.24,11.70 v6.10"/>
<path d="M294.26,126.90 v-6.10 M294.26,11.70 v6.10"/>
<path d="M308.28,126.90 v-12.20 M308.28,11.70 v12.20"/>
<path d="M322.30,126.90 v-6.10 M322.30,11.70 v6.10"/>
<path d="M336.32,126.90 v-6.10 M336.32,11.70 v6.10"/>
<path d="M350.34,126.90 v-6.10 M350.34,11.70 v6.10"/>
<path d="M364.36,126.90 v-12.20 M364.36,11.70 v12.20"/>
<path d="M378.38,126.90 v-6.10 M378.38,11.70 v6.10"/>
<path d="M252.20,121.10 h12.40 M392.40,121.10 h-12.40"/>
<path d="M252.20,108.93 h6.10 M392.40,108.93 h-6.10"/>
<path d="M252.20,96.75 h12.40 M392.40,96.75 h-12.40"/>
<path d="M252.20,84.58 h6.10 M392.40,84.58 h-6.10"/>
<path d="M252.20,72.40 h12.40 M392.40,72.40 h-12.40"/>
<path d="M252.20,60.23 h6.10 M392.40,60.23 h-6.10"/>
<path d="M252.20,48.05 h12.40 M392.40,48.05 h-12.40"/>
<path d="M252.20,35.88 h6.10 M392.40,35.88 h-6.10"/>
<path d="M252.20,23.70 h12.40 M392.40,23.70 h-12.40"/>
<rect x="252.20" y="11.70" width="140.20" height="115.20"/>
</g>
<g font-family="'Liberation Sans', sans-serif" fill="#000" stroke="#000" stroke-width="0.15">
<text transform="translate(246.00,29.30) scale(1.070,1)" font-size="16.00" text-anchor="end" >0.14</text>
<text transform="translate(246.00,53.40) scale(1.070,1)" font-size="16.00" text-anchor="end" >0.12</text>
<text transform="translate(248.60,77.80) scale(1.070,1)" font-size="16.00" text-anchor="end" >0.1</text>
<text transform="translate(246.00,101.90) scale(1.070,1)" font-size="16.00" text-anchor="end" >0.08</text>
<text transform="translate(246.00,125.70) scale(1.070,1)" font-size="16.00" text-anchor="end" >0.06</text>
<text transform="translate(252.70,144.90) scale(1.070,1)" font-size="16.00" text-anchor="middle" >0.01</text>
<text transform="translate(308.78,144.90) scale(1.070,1)" font-size="16.00" text-anchor="middle" >0.012</text>
<text transform="translate(364.86,144.90) scale(1.070,1)" font-size="16.00" text-anchor="middle" >0.014</text>
</g>
</svg>
</body></html>
